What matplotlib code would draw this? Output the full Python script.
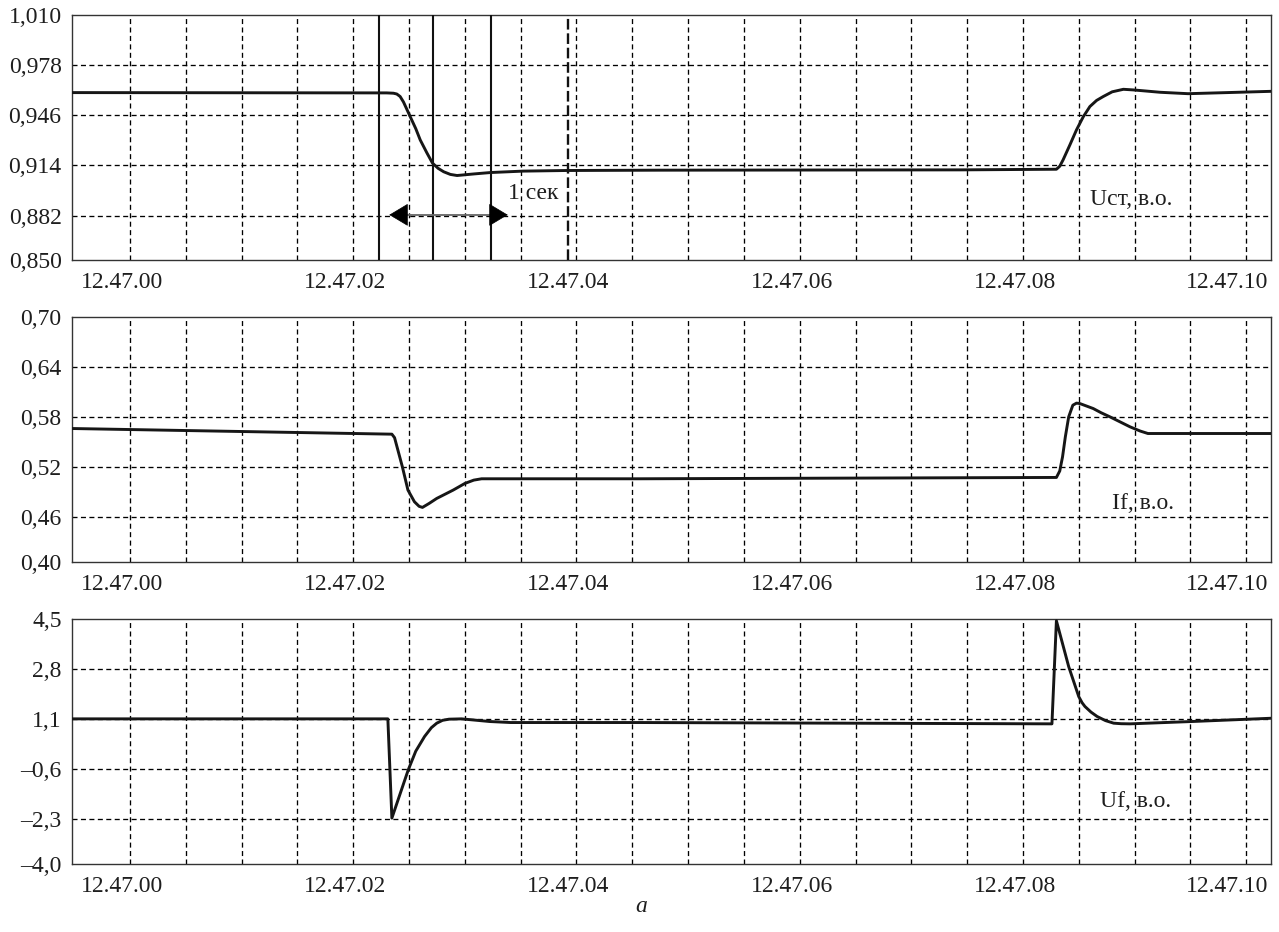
import matplotlib
matplotlib.use("Agg")
import matplotlib.pyplot as plt
from matplotlib.transforms import ScaledTranslation
import numpy as np

plt.rcParams['font.family'] = ['Liberation Serif', 'DejaVu Serif']

# ---------------- data ----------------
x_tick_pos = [0, 2, 4, 6, 8, 10]
x_tick_labels = ["12.47.00", "12.47.02", "12.47.04", "12.47.06", "12.47.08", "12.47.10"]

# Panel 1: stator voltage
u_t = [-0.52, 2.30, 2.36, 2.39, 2.42, 2.45, 2.51, 2.56, 2.60, 2.66, 2.71, 2.76, 2.81, 2.87,
       2.93, 3.08, 3.23, 3.52, 3.91, 4.75, 7.44, 8.30, 8.33, 8.36, 8.42, 8.48, 8.54, 8.60,
       8.66, 8.72, 8.80, 8.90, 8.99, 9.23, 9.48, 9.83, 10.22]
u_v = [0.9605, 0.9603, 0.9601, 0.9596, 0.9580, 0.9545, 0.9452, 0.9375, 0.9303, 0.9220, 0.9155,
       0.9122, 0.9100, 0.9083, 0.9076, 0.9086, 0.9095, 0.9104, 0.9108, 0.9110, 0.9112, 0.9116,
       0.9135, 0.9176, 0.9270, 0.9367, 0.9450, 0.9516, 0.9555, 0.9580, 0.9610, 0.9626, 0.9622,
       0.9607, 0.9598, 0.9605, 0.9613]
u_ticks = [1.010, 0.978, 0.946, 0.914, 0.882]
u_tick_labels = ["1,010", "0,978", "0,946", "0,914", "0,882"]
u_bottom_label = "0,850"
u_ylim = (0.8537, 1.010)

# Panel 2: field current
i_t = [-0.52, 2.346, 2.37, 2.40, 2.44, 2.49, 2.548, 2.59, 2.62, 2.68, 2.748, 2.895, 3.00,
       3.08, 3.15, 4.57, 8.30, 8.33, 8.355, 8.38, 8.41, 8.447, 8.48, 8.51, 8.56, 8.63, 8.70,
       8.78, 8.87, 8.96, 9.05, 9.12, 10.22]
i_v = [0.566, 0.5592, 0.555, 0.540, 0.520, 0.492, 0.478, 0.4725, 0.4712, 0.476, 0.482, 0.492,
       0.500, 0.504, 0.5056, 0.5056, 0.5072, 0.515, 0.532, 0.556, 0.580, 0.594, 0.5965, 0.596,
       0.5935, 0.590, 0.585, 0.580, 0.574, 0.568, 0.563, 0.560, 0.560]
i_ticks = [0.70, 0.64, 0.58, 0.52, 0.46]
i_tick_labels = ["0,70", "0,64", "0,58", "0,52", "0,46"]
i_bottom_label = "0,40"
i_ylim = (0.4056, 0.70)

# Panel 3: field voltage
f_t = [-0.52, 2.31, 2.346, 2.42, 2.493, 2.56, 2.639, 2.70, 2.748, 2.80, 2.858, 2.97, 3.224,
       3.41, 4.57, 8.26, 8.30, 8.41, 8.50, 8.53, 8.556, 8.61, 8.665, 8.74, 8.813, 8.88, 8.96,
       9.51, 10.22]
f_v = [1.10, 1.10, -2.28, -1.45, -0.634, 0.00, 0.50, 0.80, 0.953, 1.05, 1.089, 1.10, 1.009,
       0.975, 0.975, 0.93, 4.44, 2.88, 1.86, 1.65, 1.52, 1.33, 1.18, 1.04, 0.953, 0.935, 0.93,
       1.009, 1.12]
f_ticks = [4.5, 2.8, 1.1, -0.6, -2.3]
f_tick_labels = ["4,5", "2,8", "1,1", "\u20130,6", "\u20132,3"]
f_bottom_label = "\u20134,0"
f_ylim = (-3.842, 4.5)

cursor_lines = [2.231, 2.712, 3.232]
cursor_dashed = 3.925

# ---------------- figure ----------------
W, H = 1279, 932
fig = plt.figure(figsize=(W / 100, H / 100), dpi=100)
left = 72 / W
width = (1270.7 - 72) / W
ph = 245 / H
bottoms_px = [260, 562, 864]
axes = [fig.add_axes([left, 1 - b / H, width, ph]) for b in bottoms_px]

FS = 17
TXT = "#1e1e1e"
grid_x = np.arange(0, 10.01, 0.5)
xlim = (-0.52, 10.22)

panels = [
    (u_t, u_v, u_ticks, u_tick_labels, u_bottom_label, u_ylim),
    (i_t, i_v, i_ticks, i_tick_labels, i_bottom_label, i_ylim),
    (f_t, f_v, f_ticks, f_tick_labels, f_bottom_label, f_ylim),
]

for ax, (t, v, yt, ytl, yb, yl) in zip(axes, panels):
    ax.set_xlim(*xlim)
    ax.set_ylim(*yl)
    for gx in grid_x:
        ax.axvline(gx, color="black", lw=0.95, ls=(0, (3.8, 2.6)), zorder=1)
    for gy in yt[1:]:
        ax.axhline(gy, color="black", lw=0.95, ls=(0, (3.8, 2.6)), zorder=1)
    ax.plot(t, v, color="#161616", lw=2.1, solid_joinstyle="round", zorder=4)
    ax.set_yticks([yl[0]] + list(yt))
    ax.set_yticklabels([yb] + list(ytl), fontsize=FS, color=TXT)
    ax.set_xticks(x_tick_pos)
    ax.set_xticklabels(x_tick_labels, fontsize=FS, color=TXT)
    ax.tick_params(axis="both", length=0)
    ax.tick_params(axis="y", pad=7.5)
    ax.tick_params(axis="x", pad=8.5)
    for sp in ax.spines.values():
        sp.set_color("#333333")
        sp.set_linewidth(1.0)
    labels = ax.get_xticklabels()
    for k, lbl in enumerate(labels):
        dx = -19 if k == len(labels) - 1 else -8
        lbl.set_transform(lbl.get_transform() + ScaledTranslation(dx / 100, 0, fig.dpi_scale_trans))

ax1, ax2, ax3 = axes

# cursors in panel 1
for cx in cursor_lines:
    ax1.axvline(cx, color="#111111", lw=1.5, zorder=3)
ax1.axvline(cursor_dashed, color="#111111", lw=1.7, ls=(0, (4.5, 1.6)), zorder=3)

# "1 sec" arrow
ya = 0.8825
ax1.plot([2.473, 3.232], [ya, ya], color="#666666", lw=1.3, zorder=3)
hp = dict(arrowstyle="-|>,head_length=12.5,head_width=7.5", color="black",
          shrinkA=0, shrinkB=0, mutation_scale=1, lw=0.5)
ax1.annotate("", xy=(2.323, ya), xytext=(2.473, ya), arrowprops=hp, zorder=5)
ax1.annotate("", xy=(3.384, ya), xytext=(3.232, ya), arrowprops=hp, zorder=5)
ax1.text(3.384, 0.8963, "1 сек", fontsize=FS, color=TXT, va="center", ha="left", zorder=5)

ax1.text(8.602, 0.8921, "Uст, в.о.", fontsize=FS, color=TXT, va="center", ha="left", zorder=5)
ax2.text(8.794, 0.476, "If, в.о.", fontsize=FS, color=TXT, va="center", ha="left", zorder=5)
ax3.text(8.695, -1.724, "Uf, в.о.", fontsize=FS, color=TXT, va="center", ha="left", zorder=5)

fig.text(641 / W, 1 - 906 / H, "a", fontsize=FS, style="italic", color=TXT,
         ha="center", va="center")

fig.savefig("out.png", dpi=100)
